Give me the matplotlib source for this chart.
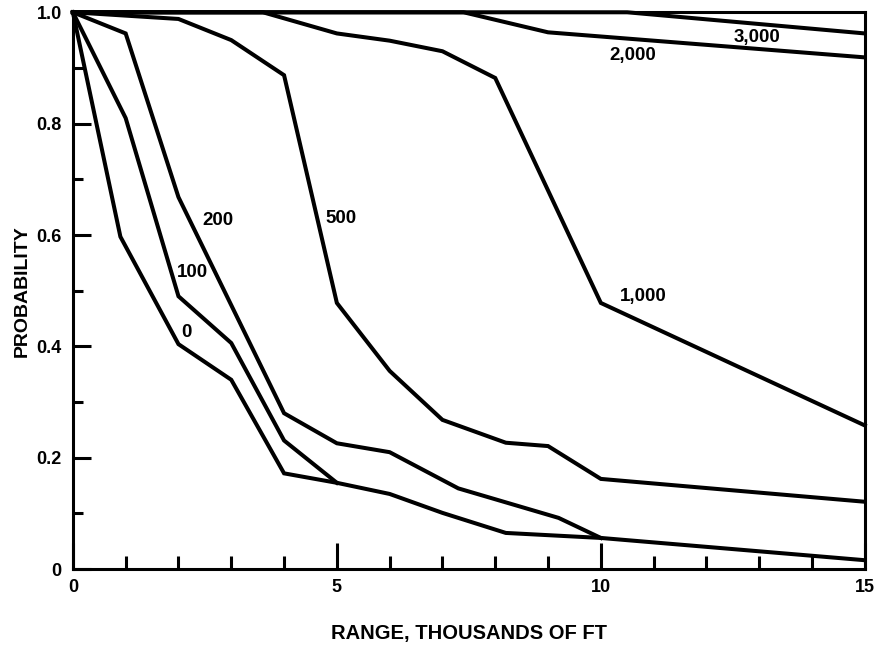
import matplotlib
matplotlib.use("Agg")
import matplotlib.pyplot as plt
from matplotlib.ticker import MultipleLocator

plt.rcParams['font.family'] = ['Liberation Sans', 'DejaVu Sans']
plt.rcParams['font.weight'] = 'bold'

# Data (range in thousands of ft, probability)
x_0 = [0, 0.9, 2, 3, 4, 5, 6, 7, 8.2, 10, 15]
y_0 = [1.0, 0.597, 0.404, 0.34, 0.172, 0.155, 0.135, 0.101, 0.065, 0.056, 0.016]

x_100 = [0, 1, 2, 3, 4, 5]
y_100 = [1.0, 0.81, 0.49, 0.406, 0.231, 0.155]

x_200 = [0, 1, 2, 4, 5, 6, 7.3, 9.2, 10]
y_200 = [1.0, 0.962, 0.668, 0.28, 0.226, 0.21, 0.145, 0.092, 0.056]

x_500 = [0, 2, 3, 4, 5, 6, 7, 8.2, 9, 10, 15]
y_500 = [1.0, 0.988, 0.95, 0.887, 0.478, 0.356, 0.268, 0.227, 0.221, 0.162, 0.121]

x_1000 = [0, 3.6, 5, 6, 7, 8, 10, 15]
y_1000 = [1.0, 1.0, 0.962, 0.949, 0.93, 0.882, 0.478, 0.258]

x_2000 = [0, 7.4, 9, 15]
y_2000 = [1.0, 1.0, 0.964, 0.919]

x_3000 = [0, 10.5, 15]
y_3000 = [1.0, 1.0, 0.962]

series = [(x_0, y_0), (x_100, y_100), (x_200, y_200), (x_500, y_500),
          (x_1000, y_1000), (x_2000, y_2000), (x_3000, y_3000)]

curve_labels = ["0", "100", "200", "500", "1,000", "2,000", "3,000"]
label_x = [2.15, 2.26, 2.75, 5.08, 10.8, 10.6, 12.95]
label_y = [0.425, 0.532, 0.626, 0.63, 0.49, 0.923, 0.954]

x_ticks = [0, 5, 10, 15]
x_ticklabels = ["0", "5", "10", "15"]
y_ticks = [0, 0.2, 0.4, 0.6, 0.8, 1.0]
y_ticklabels = ["0", "0.2", "0.4", "0.6", "0.8", "1.0"]

fig = plt.figure(figsize=(8.78, 6.46), dpi=100)
ax = fig.add_axes([0.083, 0.119, 0.902, 0.862])

for xs, ys in series:
    ax.plot(xs, ys, color='black', lw=2.9, solid_joinstyle='miter', clip_on=False)

for t, lx, ly in zip(curve_labels, label_x, label_y):
    ax.text(lx, ly, t, fontsize=13.5, fontweight='bold', ha='center', va='center')

ax.set_xlim(0, 15)
ax.set_ylim(0, 1.0)
ax.set_xticks(x_ticks)
ax.set_xticklabels(x_ticklabels)
ax.set_yticks(y_ticks)
ax.set_yticklabels(y_ticklabels)
ax.xaxis.set_minor_locator(MultipleLocator(1))
ax.yaxis.set_minor_locator(MultipleLocator(0.1))

ax.tick_params(axis='x', which='major', direction='in', length=19, width=2.2, labelsize=13, pad=7)
ax.tick_params(axis='x', which='minor', direction='in', length=9.5, width=2.2)
ax.tick_params(axis='y', which='major', direction='in', length=13, width=2.2, labelsize=13, pad=8)
ax.tick_params(axis='y', which='minor', direction='in', length=7, width=2.2)

for s in ax.spines.values():
    s.set_linewidth(2.2)

ax.set_xlabel("RANGE, THOUSANDS OF FT", fontsize=14.5, fontweight='bold', labelpad=20)
ax.set_ylabel("PROBABILITY", fontsize=14, fontweight='bold', labelpad=4)

fig.savefig("out.png", dpi=100, facecolor='white')
